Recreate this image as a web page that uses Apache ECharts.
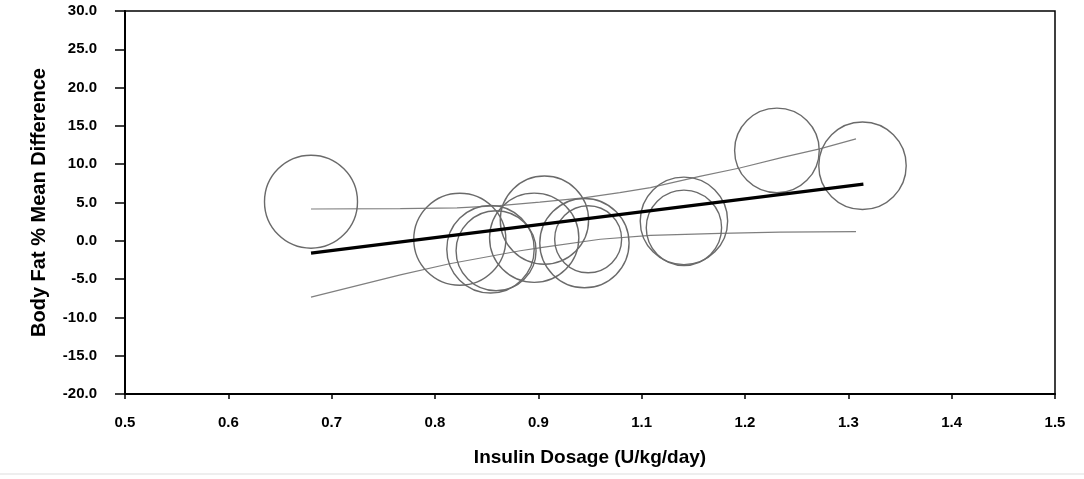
<!DOCTYPE html>
<html>
<head>
<meta charset="UTF-8">
<title>Body Fat % vs Insulin Dosage</title>
<script src="https://cdn.jsdelivr.net/npm/echarts@6/dist/echarts.min.js"></script>
<style>
  html, body { margin: 0; padding: 0; background: #fff; }
  #main { width: 1084px; height: 479px; }
</style>
</head>
<body>
<div id="main"></div>
<script>
// study points (insulin dosage, body fat % mean difference)
var studyX = [0.700, 0.860, 0.893, 0.899, 0.951, 0.940, 0.994, 0.998, 1.101, 1.101, 1.201, 1.293];
var studyY = [5.1, 0.2, -1.1, -1.3, 2.7, 0.4, -0.3, 0.2, 2.6, 1.7, 11.8, 9.8];
// relative study weight (largest = 100)
var studyWeight = [100, 99, 94, 86, 95, 96, 96, 72, 94, 81, 91, 94];

// fitted regression line
var fitX = [0.700, 1.294];
var fitY = [-1.6, 7.4];

// confidence band
var upperX = [0.700, 0.796, 0.857, 0.903, 0.946, 0.993, 1.032, 1.065, 1.118, 1.161, 1.207, 1.247, 1.286];
var upperY = [4.15, 4.2, 4.3, 4.6, 5.05, 5.6, 6.3, 6.95, 8.4, 9.5, 10.9, 12.0, 13.3];
var lowerX = [0.700, 0.796, 0.849, 0.925, 0.949, 1.011, 1.065, 1.140, 1.204, 1.286];
var lowerY = [-7.35, -4.45, -3.0, -1.3, -0.85, 0.2, 0.72, 0.98, 1.12, 1.2];

var xTicksMin = 0.5, xTicksMax = 1.5, xTickCount = 9;

function zip(a, b) {
  return a.map(function (v, i) { return [v, b[i]]; });
}

var font = 'Liberation Sans, Arial, sans-serif';
var chart = echarts.init(document.getElementById('main'), null, { renderer: 'canvas' });

chart.setOption({
  backgroundColor: '#fff',
  animation: false,
  grid: {
    left: 125, right: 29, top: 11, bottom: 85,
    show: true, borderColor: '#000', borderWidth: 1.5,
    containLabel: false, outerBoundsMode: 'none'
  },
  xAxis: {
    type: 'value',
    min: xTicksMin, max: xTicksMax,
    interval: (xTicksMax - xTicksMin) / xTickCount,
    name: 'Insulin Dosage (U/kg/day)',
    nameLocation: 'middle',
    nameGap: 54,
    nameTextStyle: { fontFamily: font, fontWeight: 'bold', fontSize: 19, color: '#000' },
    axisLine: { onZero: false, lineStyle: { color: '#000', width: 2 } },
    axisTick: { inside: false, length: 5, lineStyle: { color: '#000', width: 1.5 } },
    axisLabel: {
      margin: 21, fontFamily: font, fontWeight: 'bold', fontSize: 15, color: '#000',
      formatter: function (v) { return v.toFixed(1); }
    },
    splitLine: { show: false }
  },
  yAxis: {
    type: 'value',
    min: -20, max: 30, interval: 5,
    name: 'Body Fat % Mean Difference',
    nameLocation: 'middle',
    nameGap: 76,
    nameTextStyle: { fontFamily: font, fontWeight: 'bold', fontSize: 20, color: '#000' },
    axisLine: { onZero: false, lineStyle: { color: '#000', width: 2 } },
    axisTick: { inside: false, length: 10, lineStyle: { color: '#000', width: 1.5 } },
    axisLabel: {
      margin: 28, fontFamily: font, fontWeight: 'bold', fontSize: 15, color: '#000',
      formatter: function (v) { return v.toFixed(1); }
    },
    splitLine: { show: false }
  },
  series: [
    {
      name: 'upper',
      type: 'line',
      data: zip(upperX, upperY),
      smooth: false,
      showSymbol: false,
      lineStyle: { color: '#7f7f7f', width: 1.2 },
      z: 2
    },
    {
      name: 'lower',
      type: 'line',
      data: zip(lowerX, lowerY),
      smooth: false,
      showSymbol: false,
      lineStyle: { color: '#7f7f7f', width: 1.2 },
      z: 2
    },
    {
      name: 'studies',
      type: 'scatter',
      data: zip(studyX, studyY).map(function (p, i) { return p.concat(studyWeight[i]); }),
      symbol: 'circle',
      symbolSize: function (val) { return 93 * val[2] / 100; },
      itemStyle: { color: 'rgba(0,0,0,0)', borderColor: '#6a6a6a', borderWidth: 1.4, opacity: 1 },
      z: 3
    },
    {
      name: 'fit',
      type: 'line',
      data: zip(fitX, fitY),
      showSymbol: false,
      lineStyle: { color: '#000', width: 3.2 },
      z: 4
    }
  ],
  graphic: [
    { type: 'rect', shape: { x: 0, y: 473, width: 1084, height: 2 }, style: { fill: '#eeeeee' }, silent: true }
  ]
});
</script>
</body>
</html>
